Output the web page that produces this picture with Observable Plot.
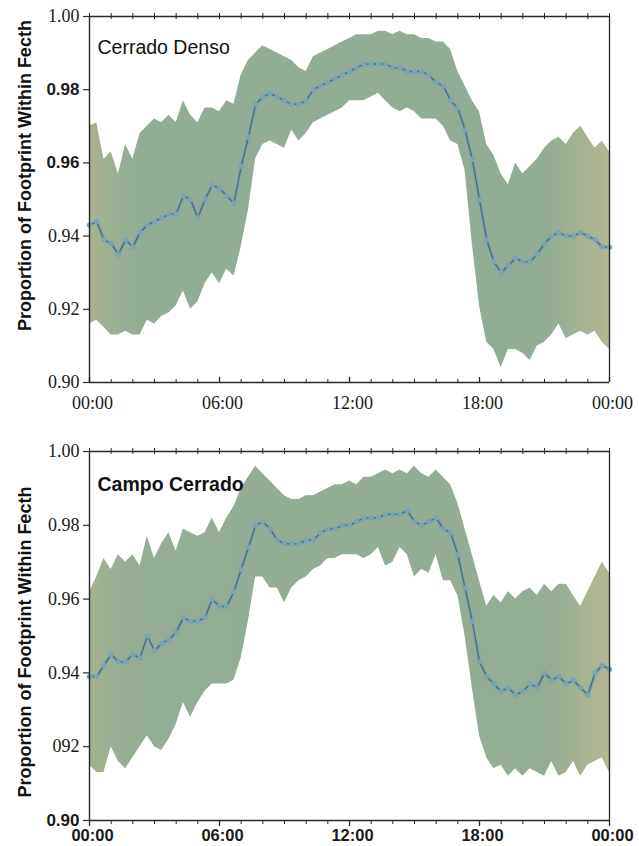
<!DOCTYPE html>
<html>
<head>
<meta charset="utf-8">
<script src="https://cdn.jsdelivr.net/npm/d3@7"></script>
<script src="https://cdn.jsdelivr.net/npm/@observablehq/plot@0.6"></script>
<style>
  html, body { margin: 0; padding: 0; background: #fff; }
  #chart { width: 639px; }
  #chart svg { display: block; }
</style>
</head>
<body>
<div id="chart"></div>
<script>
// Proportion of the flux footprint inside the fetch, 20-minute steps from 00:00 to 24:00.
// Cerrado Denso: mean and the upper / lower envelope
const cdMean = [
  0.943, 0.944, 0.939, 0.938, 0.935, 0.939, 0.937, 0.941, 0.943, 0.944,
  0.945, 0.946, 0.946, 0.951, 0.950, 0.945, 0.950, 0.954, 0.953, 0.951,
  0.949, 0.959, 0.967, 0.976, 0.978, 0.979, 0.978, 0.977, 0.976, 0.976,
  0.977, 0.980, 0.981, 0.982, 0.983, 0.984, 0.985, 0.986, 0.987, 0.987,
  0.987, 0.987, 0.986, 0.986, 0.985, 0.985, 0.985, 0.984, 0.982, 0.981,
  0.977, 0.975, 0.969, 0.961, 0.950, 0.939, 0.933, 0.930, 0.932, 0.934,
  0.933, 0.933, 0.935, 0.938, 0.940, 0.941, 0.940, 0.940, 0.941, 0.940,
  0.939, 0.937, 0.937
];
const cdUpper = [
  0.970, 0.971, 0.961, 0.963, 0.957, 0.965, 0.961, 0.968, 0.970, 0.972,
  0.971, 0.973, 0.971, 0.977, 0.973, 0.971, 0.975, 0.975, 0.974, 0.977,
  0.976, 0.984, 0.988, 0.990, 0.992, 0.991, 0.990, 0.989, 0.988, 0.986,
  0.985, 0.989, 0.990, 0.991, 0.992, 0.993, 0.994, 0.995, 0.995, 0.995,
  0.996, 0.996, 0.995, 0.996, 0.995, 0.995, 0.994, 0.994, 0.993, 0.993,
  0.991, 0.985, 0.981, 0.977, 0.974, 0.965, 0.962, 0.957, 0.954, 0.960,
  0.957, 0.959, 0.961, 0.964, 0.966, 0.967, 0.965, 0.968, 0.970, 0.967,
  0.964, 0.966, 0.963
];
const cdLower = [
  0.916, 0.917, 0.915, 0.913, 0.913, 0.914, 0.913, 0.913, 0.917, 0.916,
  0.918, 0.919, 0.921, 0.925, 0.920, 0.922, 0.927, 0.930, 0.927, 0.931,
  0.929, 0.937, 0.947, 0.961, 0.965, 0.966, 0.965, 0.964, 0.969, 0.966,
  0.968, 0.971, 0.972, 0.973, 0.974, 0.975, 0.977, 0.977, 0.977, 0.978,
  0.979, 0.977, 0.975, 0.974, 0.975, 0.974, 0.972, 0.972, 0.972, 0.970,
  0.966, 0.965, 0.958, 0.938, 0.921, 0.911, 0.909, 0.904, 0.909, 0.909,
  0.908, 0.906, 0.910, 0.911, 0.913, 0.916, 0.912, 0.913, 0.914, 0.913,
  0.914, 0.911, 0.909
];

// Campo Cerrado: mean and the upper / lower envelope
const ccMean = [
  0.939, 0.939, 0.942, 0.945, 0.943, 0.943, 0.945, 0.944, 0.950, 0.946,
  0.948, 0.949, 0.951, 0.955, 0.954, 0.954, 0.955, 0.960, 0.958, 0.958,
  0.962, 0.968, 0.974, 0.980, 0.981, 0.979, 0.976, 0.975, 0.975, 0.975,
  0.976, 0.976, 0.978, 0.979, 0.979, 0.980, 0.980, 0.981, 0.982, 0.982,
  0.982, 0.983, 0.983, 0.983, 0.984, 0.981, 0.980, 0.981, 0.982, 0.979,
  0.978, 0.972, 0.963, 0.954, 0.943, 0.939, 0.937, 0.935, 0.936, 0.934,
  0.935, 0.937, 0.936, 0.940, 0.938, 0.939, 0.937, 0.938, 0.936, 0.934,
  0.940, 0.942, 0.941
];
const ccUpper = [
  0.962, 0.966, 0.971, 0.968, 0.972, 0.970, 0.972, 0.969, 0.977, 0.971,
  0.975, 0.978, 0.973, 0.979, 0.978, 0.977, 0.978, 0.982, 0.978, 0.982,
  0.985, 0.990, 0.993, 0.996, 0.994, 0.992, 0.990, 0.988, 0.987, 0.987,
  0.988, 0.988, 0.989, 0.990, 0.991, 0.991, 0.992, 0.991, 0.993, 0.993,
  0.994, 0.995, 0.994, 0.995, 0.994, 0.996, 0.994, 0.993, 0.995, 0.993,
  0.991, 0.986, 0.979, 0.972, 0.965, 0.958, 0.961, 0.959, 0.962, 0.960,
  0.962, 0.963, 0.961, 0.964, 0.962, 0.964, 0.964, 0.961, 0.958, 0.962,
  0.966, 0.970, 0.967
];
const ccLower = [
  0.915, 0.913, 0.913, 0.920, 0.916, 0.914, 0.917, 0.920, 0.923, 0.920,
  0.919, 0.922, 0.926, 0.932, 0.928, 0.932, 0.935, 0.937, 0.937, 0.937,
  0.938, 0.944, 0.954, 0.966, 0.966, 0.963, 0.963, 0.959, 0.963, 0.965,
  0.966, 0.968, 0.969, 0.971, 0.971, 0.972, 0.972, 0.972, 0.971, 0.972,
  0.974, 0.969, 0.970, 0.974, 0.972, 0.966, 0.968, 0.967, 0.972, 0.965,
  0.965, 0.961, 0.950, 0.936, 0.923, 0.917, 0.914, 0.915, 0.912, 0.914,
  0.912, 0.914, 0.913, 0.912, 0.916, 0.912, 0.913, 0.916, 0.912, 0.915,
  0.916, 0.917, 0.913
];

// Axis ticks and their labels
const yTicks = [0.90, 0.92, 0.94, 0.96, 0.98, 1.00];
const cdYLabels = ["0.90", "0.92", "0.94", "0.96", "0.98", "1.00"];
const cdYBold = [false, false, false, true, true, false];
const ccYLabels = ["0.90", "092", "0.94", "0.96", "0.98", "1.00"];
const ccYBold = [true, false, false, false, false, false];
const majorHours = [0, 6, 12, 18, 24];
const hourLabels = ["00:00", "06:00", "12:00", "18:00", "00:00"];
const minorHours = d3.range(0, 25);
const yTitle = "Proportion of Footprint Within Fecth";

const SERIF = "'Liberation Serif', 'Times New Roman', serif";
const SANS = "'Liberation Sans', Arial, Helvetica, sans-serif";
const INK = "#262a27";
const BLUE = "#78a6b6";

function panel(o) {
  const W = 639, ML = 89, MR = 30;
  const plotW = W - ML - MR;
  const plotH = o.height - o.marginTop - o.marginBottom;
  const rows = o.mean.map((m, i) => ({t: i / 3, m, lo: o.lower[i], hi: o.upper[i]}));
  const yt = yTicks.map((v, i) => ({v, label: o.yLabels[i], bold: o.yBold[i]}));
  const xt = majorHours.map((h, i) => ({h, label: hourLabels[i]}));

  const svg = Plot.plot({
    width: W,
    height: o.height,
    marginTop: o.marginTop,
    marginBottom: o.marginBottom,
    marginLeft: ML,
    marginRight: MR,
    x: {domain: [0, 24], axis: null},
    y: {domain: [0.9, 1.0], axis: null},
    style: {background: "white", overflow: "visible"},
    marks: [
      // envelope
      Plot.areaY(rows, {x: "t", y1: "lo", y2: "hi", fill: `url(#${o.id}-band)`}),
      // mean: dark trace with blue sample markers
      Plot.line(rows, {x: "t", y: "m", stroke: "#132019", strokeWidth: 1.5}),
      Plot.line(rows, {x: "t", y: "m", stroke: BLUE, strokeWidth: 4, strokeOpacity: 0.6}),
      Plot.dot(rows, {x: "t", y: "m", r: 2.7, fill: BLUE}),

      // frame
      Plot.ruleY([0.9], {stroke: INK, strokeWidth: 1.3}),
      Plot.ruleY([1.0], {stroke: INK, strokeWidth: 1.3}),
      Plot.ruleX([0], {stroke: INK, strokeWidth: 1.4}),
      Plot.ruleX([24], {stroke: INK, strokeWidth: 1.3}),

      // y ticks (outward)
      Plot.tickY(yTicks, {y: d => d, insetLeft: -6, insetRight: plotW, stroke: INK, strokeWidth: 1.2}),

      // hourly ticks along the top edge
      Plot.tickX(minorHours, {x: d => d, insetTop: -3, insetBottom: plotH - 3, stroke: INK, strokeWidth: 1}),
      // hourly ticks along the bottom edge
      o.ticksOut
        ? Plot.tickX(minorHours, {x: d => d, insetTop: plotH, insetBottom: -4, stroke: INK, strokeWidth: 1})
        : Plot.tickX(minorHours, {x: d => d, insetTop: plotH - 3, stroke: INK, strokeWidth: 1}),
      o.ticksOut
        ? Plot.tickX(majorHours, {x: d => d, insetTop: plotH, insetBottom: -6, stroke: INK, strokeWidth: 1.3})
        : Plot.tickX(majorHours, {x: d => d, insetTop: plotH - 5, stroke: INK, strokeWidth: 1.3}),

      // y tick labels
      Plot.text(yt.filter(d => !d.bold), {
        frameAnchor: "left", y: "v", text: "label", textAnchor: "end", lineAnchor: "middle",
        dx: -10, fontFamily: SERIF, fontSize: 18, fill: "#1a1a1a"
      }),
      Plot.text(yt.filter(d => d.bold), {
        frameAnchor: "left", y: "v", text: "label", textAnchor: "end", lineAnchor: "middle",
        dx: -10, fontFamily: SANS, fontWeight: "bold", fontSize: 17, fill: "#1a1a1a"
      }),

      // x tick labels
      Plot.text(xt, {
        frameAnchor: "bottom", x: "h", text: "label", textAnchor: "middle", lineAnchor: "middle",
        dx: 3, dy: o.xLabelDy,
        fontFamily: o.xBold ? SANS : SERIF, fontWeight: o.xBold ? "bold" : "normal",
        fontSize: o.xBold ? 16.5 : 18, fill: "#1a1a1a"
      }),

      // panel name
      Plot.text([o.name], {
        frameAnchor: "top-left", text: d => d, textAnchor: "start", lineAnchor: "bottom",
        dx: 8, dy: o.nameDy, fontFamily: SANS, fontWeight: o.nameBold ? "bold" : "normal",
        fontSize: 19.5, fill: "#111"
      }),

      // y-axis title
      Plot.text([yTitle], {
        frameAnchor: "left", text: d => d, rotate: -90, textAnchor: "middle", lineAnchor: "middle",
        dx: -64, dy: o.titleDy, fontFamily: SANS, fontWeight: "bold", fontSize: 18, fill: "#111"
      })
    ]
  });

  // horizontal tint of the envelope: khaki at the ends, sage green through the day
  const grad = d3.select(svg).insert("defs", ":first-child")
    .append("linearGradient")
    .attr("id", `${o.id}-band`)
    .attr("x1", 0).attr("x2", 1).attr("y1", 0).attr("y2", 0);
  o.stops.forEach(([offset, color]) =>
    grad.append("stop").attr("offset", offset).attr("stop-color", color));

  return svg;
}

const chart = document.getElementById("chart");

chart.appendChild(panel({
  id: "cd",
  name: "Cerrado Denso",
  nameBold: false,
  mean: cdMean, upper: cdUpper, lower: cdLower,
  yLabels: cdYLabels, yBold: cdYBold,
  xBold: false,
  ticksOut: false,
  height: 420, marginTop: 16, marginBottom: 38,
  xLabelDy: 21, nameDy: 37, titleDy: -24,
  stops: [[0, "#aab291"], [0.04, "#9db093"], [0.1, "#92ad96"], [0.88, "#92ad96"], [0.95, "#a6b292"], [1, "#b4b690"]]
}));

chart.appendChild(panel({
  id: "cc",
  name: "Campo Cerrado",
  nameBold: true,
  mean: ccMean, upper: ccUpper, lower: ccLower,
  yLabels: ccYLabels, yBold: ccYBold,
  xBold: true,
  ticksOut: true,
  height: 426, marginTop: 31, marginBottom: 26,
  xLabelDy: 15, nameDy: 39, titleDy: 6,
  stops: [[0, "#a6b291"], [0.05, "#9aaf93"], [0.12, "#93ad96"], [0.89, "#94ad95"], [0.95, "#a8b391"], [1, "#b4b690"]]
}));
</script>
</body>
</html>
